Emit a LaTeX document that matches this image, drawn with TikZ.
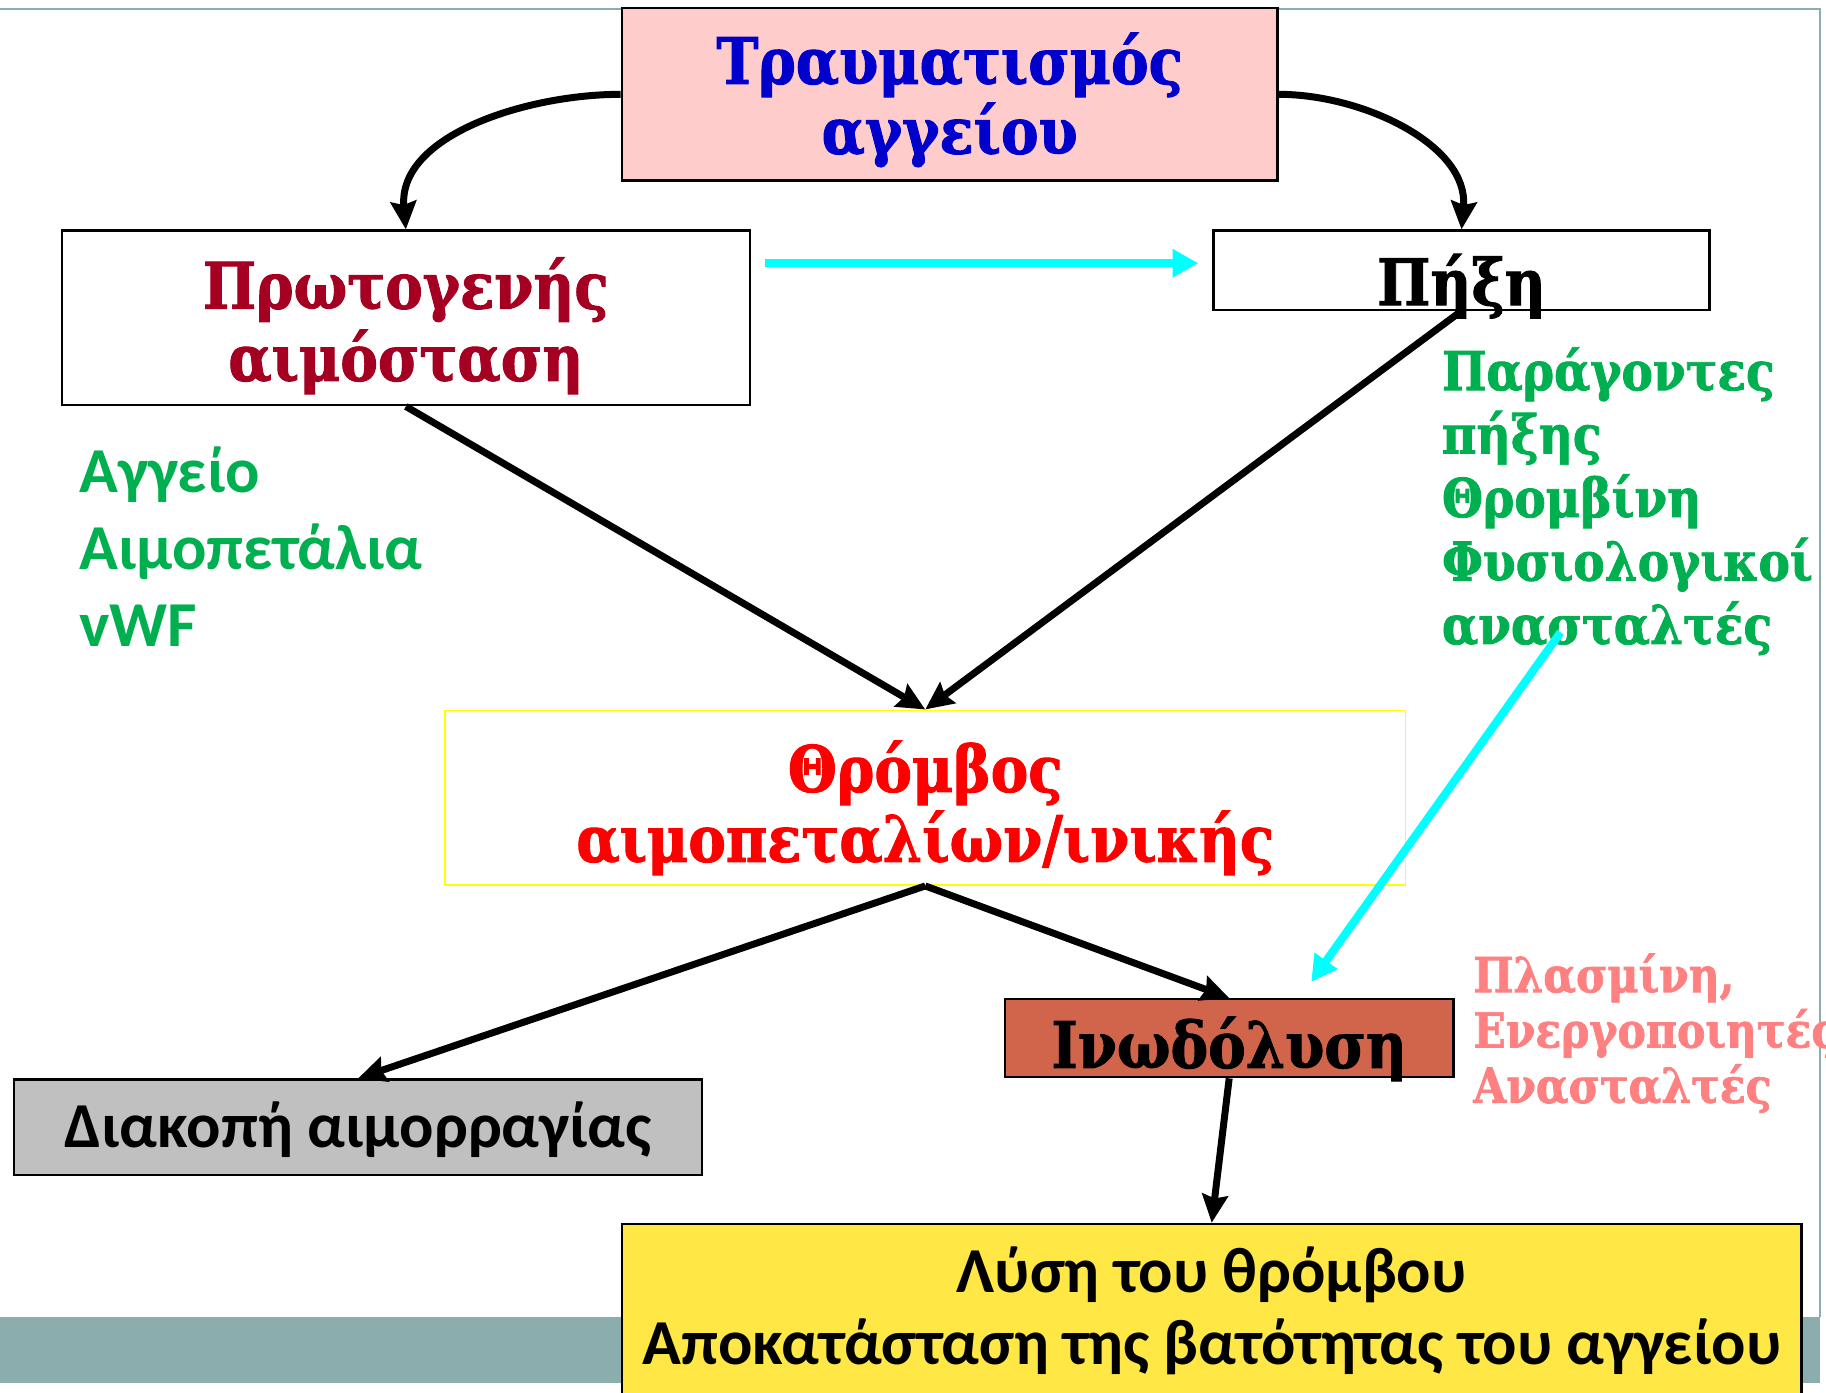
\documentclass[tikz,border=0pt]{standalone}
\usepackage{fontspec}
\setmainfont{Carlito}
\newfontfamily\slab[FakeStretch=0.88, BoldFeatures={FakeBold=1.5}]{DejaVu Serif}
\usetikzlibrary{arrows.meta}

\definecolor{frame}{HTML}{8BADAD}
\definecolor{injblue}{HTML}{0000CC}
\definecolor{injfill}{HTML}{FFCCCC}
\definecolor{primred}{HTML}{A50021}
\definecolor{factgreen}{HTML}{00B050}
\definecolor{clotred}{HTML}{FF0000}
\definecolor{clotedge}{HTML}{FFFF00}
\definecolor{fibfill}{HTML}{D1654B}
\definecolor{lysispink}{HTML}{FF8080}
\definecolor{stopgray}{HTML}{C0C0C0}
\definecolor{resfill}{HTML}{FFE845}
\definecolor{aqua}{HTML}{00FFFF}

\tikzset{
  box/.style={draw=black, line width=2pt, inner sep=0pt},
  flow/.style={draw=black, line width=6pt, -{Stealth[length=24pt,width=22pt,inset=3pt]}},
  cyanflow/.style={draw=aqua, line width=7pt, -{Triangle[length=22pt,width=23pt]}},
  slabbig/.style={font=\slab\bfseries\fontsize{55}{60}\selectfont},
  slabmid/.style={font=\slab\bfseries\fontsize{46}{54.5}\selectfont},
  slabsmall/.style={font=\slab\bfseries\fontsize{41.5}{47.5}\selectfont},
  sansbig/.style={font=\bfseries\fontsize{55}{62}\selectfont},
  txt/.style={inner sep=0pt, anchor=base, align=center},
  list/.style={inner sep=0pt, anchor=base west, align=left},
}

\begin{document}
\begin{tikzpicture}[x=1pt,y=-1pt]
\useasboundingbox (0,0) rectangle (1568,1196);
\fill[white] (0,0) rectangle (1568,1196);

% slide frame: top rule, right rule and bottom band
\draw[frame, line width=2pt] (0,8) -- (1563,8) -- (1563,1131);
\fill[frame] (0,1131) rectangle (1563,1188);

% boxes
\node[box, fill=injfill, minimum width=563pt, minimum height=148pt] (inj) at (815.5,81) {};
\node[box, fill=white, minimum width=591pt, minimum height=150pt] (prim) at (348.5,273) {};
\node[box, fill=white, minimum width=426pt, minimum height=68pt] (coag) at (1255,232) {};
\node[box, draw=clotedge, line width=1.5pt, fill=white, minimum width=825pt,
      minimum height=150pt] (clot) at (794.5,685) {};
\node[box, fill=fibfill, minimum width=385pt, minimum height=67pt] (fib) at (1055.5,891.5) {};
\node[box, fill=stopgray, minimum width=591pt, minimum height=82pt] (stop) at (307.5,968) {};
\node[box, fill=resfill, minimum width=1013pt, minimum height=160pt, anchor=north] (res)
      at (1040.5,1050) {};

% connectors
\draw[flow] (inj.west) to[out=180,in=95,looseness=0.95] (prim.north);
\draw[flow] (inj.east) to[out=0,in=85,looseness=0.95] (coag.north);
\draw[flow] (prim.south) -- (clot.north);
\draw[flow] (coag.south) -- (clot.north);
\draw[flow] (clot.south) -- (stop.north);
\draw[flow] (clot.south) -- (fib.north);
\draw[flow] (fib.south) -- (res.north);

\coordinate (cyanA) at (657,226);
\coordinate (cyanB) at (1029,226);
\coordinate (cyanC) at (1340,543);
\coordinate (cyanD) at (1126,843);
\draw[cyanflow] (cyanA) -- (cyanB);

% box texts (anchored on the baseline of their last line)
\node[txt, slabbig, text=injblue] (injtxt) at (815.5,132) {Τραυματισμός\\αγγείου};
\node[txt, slabbig, text=primred, font=\slab\bfseries\fontsize{55}{62}\selectfont]
      (primtxt) at (348.5,327) {Πρωτογενής\\αιμόσταση};
\node[txt, slabbig] (coagtxt) at (1255,262) {Πήξη};
\node[txt, slabbig, text=clotred] (clottxt) at (794.5,740) {Θρόμβος\\αιμοπεταλίων/ινικής};
\node[txt, slabbig] (fibtxt) at (1055.5,917) {Ινωδόλυση};
\node[txt, sansbig] (stoptxt) at (307.5,985) {Διακοπή αιμορραγίας};
\node[txt, sansbig] (restxt) at (1040.5,1172)
      {Λύση του θρόμβου\\Αποκατάσταση της βατότητας του αγγείου};

% side lists
\node[list, font=\bfseries\fontsize{55}{66}\selectfont, text=factgreen] (primlist) at (68,555)
      {Αγγείο\\Αιμοπετάλια\\vWF};
\node[list, slabmid, text=factgreen] (coaglist) at (1238,553)
      {Παράγοντες\\πήξης\\Θρομβίνη\\Φυσιολογικοί\\ανασταλτές};
\node[list, slabsmall, text=lysispink] (fiblist) at (1265,947)
      {Πλασμίνη,\\Ενεργοποιητές\\Ανασταλτές};

\draw[cyanflow] (cyanC) -- (cyanD);
\end{tikzpicture}
\end{document}
